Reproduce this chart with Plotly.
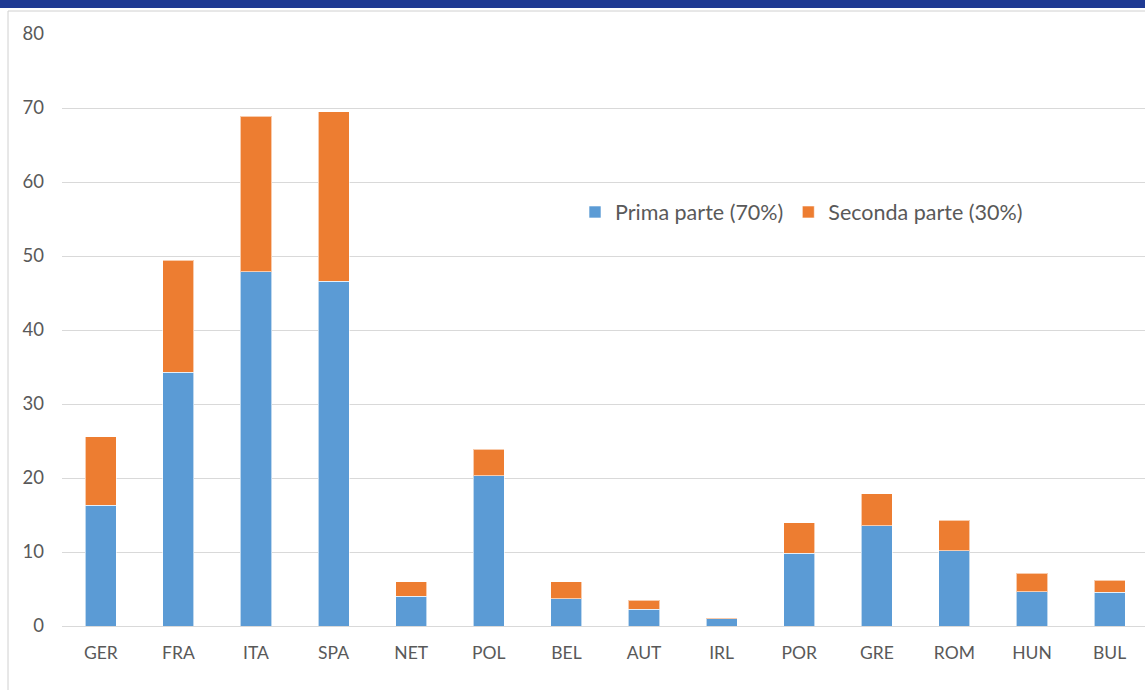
import plotly.graph_objects as go

categories = ["GER", "FRA", "ITA", "SPA", "NET", "POL", "BEL", "AUT", "IRL", "POR", "GRE", "ROM", "HUN", "BUL"]
prima_parte = [16.3, 34.3, 47.9, 46.6, 4.0, 20.3, 3.65, 2.25, 0.95, 9.8, 13.55, 10.2, 4.65, 4.55]
seconda_parte = [9.3, 15.1, 21.0, 22.9, 2.0, 3.6, 2.3, 1.25, 0.1, 4.15, 4.3, 4.1, 2.5, 1.6]
y_ticks = [0, 10, 20, 30, 40, 50, 60, 70, 80]

W, H = 1145, 690
ML, MR, MT, MB = 62, 0, 34, 64

fig = go.Figure()
fig.add_trace(go.Bar(x=categories, y=prima_parte, name="Prima parte (70%)",
                     marker=dict(color="#5B9BD5", line=dict(color="rgba(255,255,255,0.6)", width=1))))
fig.add_trace(go.Bar(x=categories, y=seconda_parte, name="Seconda parte (30%)",
                     marker=dict(color="#ED7D31", line=dict(color="rgba(255,255,255,0.6)", width=1))))

pw = W - ML - MR
ph = H - MT - MB

fig.update_layout(
    width=W, height=H,
    barmode="stack", bargap=0.6,
    margin=dict(l=ML, r=MR, t=MT, b=MB),
    paper_bgcolor="white", plot_bgcolor="white",
    font=dict(family="Lato, 'Open Sans', sans-serif", color="#595959", size=17),
    showlegend=True,
    legend=dict(orientation="h", x=(575 - ML) / pw, y=(626 - 212) / ph,
                xanchor="left", yanchor="middle",
                font=dict(size=21.5, color="#595959"), bgcolor="rgba(0,0,0,0)",
                traceorder="normal"),
    xaxis=dict(showgrid=False, showline=False, ticks="", ticklabelstandoff=14,
               tickfont=dict(size=17.5, color="#595959"), range=[-0.5, 13.456]),
    yaxis=dict(range=[0, 80], tickvals=y_ticks, showgrid=True, gridcolor="#D9D9D9",
               gridwidth=1, zeroline=True, zerolinecolor="#D9D9D9", zerolinewidth=1,
               showline=False, ticks="", ticklabelstandoff=17,
               tickfont=dict(size=18.5, color="#595959")),
    shapes=[
        dict(type="rect", xref="paper", yref="paper",
             x0=-ML / pw, x1=1,
             y0=1 + (MT - 8) / ph, y1=1 + MT / ph,
             fillcolor="#1F3A93", line=dict(width=0), layer="above"),
        dict(type="line", xref="paper", yref="paper",
             x0=(8 - ML) / pw, x1=(8 - ML) / pw,
             y0=-MB / ph, y1=1 + (MT - 11) / ph,
             line=dict(color="#D0D0D0", width=1)),
        dict(type="line", xref="paper", yref="paper",
             x0=(8 - ML) / pw, x1=1,
             y0=1 + (MT - 11) / ph, y1=1 + (MT - 11) / ph,
             line=dict(color="#D0D0D0", width=1)),
    ],
)

fig.write_html("out.html", config={"displayModeBar": False},
               post_script="document.body.style.margin='0px';document.body.style.overflow='hidden';")
